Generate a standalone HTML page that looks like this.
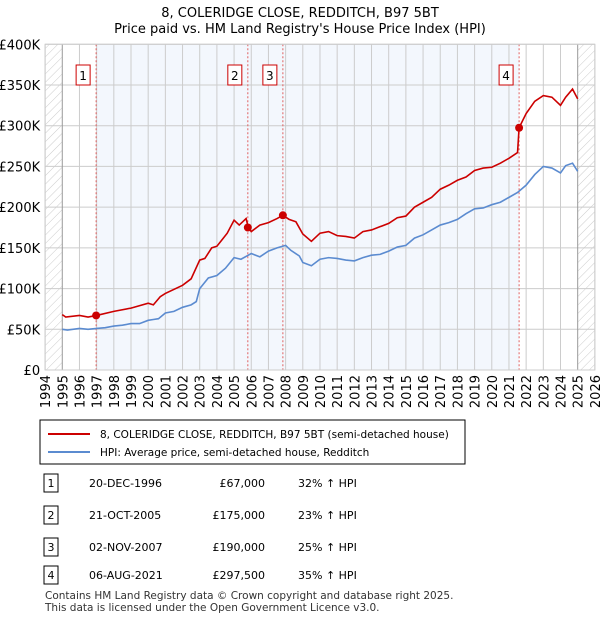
<!DOCTYPE html>
<html><head><meta charset="utf-8"><style>
body{margin:0;background:#fff;font-family:"Liberation Sans","DejaVu Sans",sans-serif;}
svg text{font-family:"DejaVu Sans","Liberation Sans",sans-serif;}
</style></head><body>
<svg width="600" height="620" xmlns="http://www.w3.org/2000/svg">
<defs><pattern id="hatch" width="6" height="6" patternUnits="userSpaceOnUse" patternTransform="rotate(45)"><line x1="0" y1="0" x2="0" y2="6" stroke="#ccc" stroke-width="1"/></pattern></defs>
<text x="300" y="17" text-anchor="middle" font-size="13">8, COLERIDGE CLOSE, REDDITCH, B97 5BT</text>
<text x="300" y="33" text-anchor="middle" font-size="13">Price paid vs. HM Land Registry's House Price Index (HPI)</text>
<g id="plot"></g>
<rect x="40" y="420" width="425" height="44" fill="#fff" stroke="#000"/>
<line x1="48" y1="434" x2="90" y2="434" stroke="#cc0000" stroke-width="2"/>
<text x="100" y="438" font-size="10.5">8, COLERIDGE CLOSE, REDDITCH, B97 5BT (semi-detached house)</text>
<line x1="48" y1="452" x2="90" y2="452" stroke="#5b8bd0" stroke-width="2"/>
<text x="100" y="456" font-size="10.5">HPI: Average price, semi-detached house, Redditch</text>
<g id="table" font-size="11"></g>
<text x="45" y="599" font-size="10.5" fill="#333">Contains HM Land Registry data © Crown copyright and database right 2025.</text>
<text x="45" y="611" font-size="10.5" fill="#333">This data is licensed under the Open Government Licence v3.0.</text>
</svg>
<script>
const NS="http://www.w3.org/2000/svg";
const yearTicks=[1994,1995,1996,1997,1998,1999,2000,2001,2002,2003,2004,2005,2006,2007,2008,2009,2010,2011,2012,2013,2014,2015,2016,2017,2018,2019,2020,2021,2022,2023,2024,2025,2026];
const yTicks=[0,50,100,150,200,250,300,350,400];
const yTickLabels=["£0","£50K","£100K","£150K","£200K","£250K","£300K","£350K","£400K"];
const hpiYears=[1995,1995.3,1996,1996.5,1997,1997.5,1998,1998.5,1999,1999.5,2000,2000.3,2000.6,2001,2001.5,2002,2002.5,2002.8,2003,2003.5,2004,2004.5,2005,2005.4,2006,2006.5,2007,2007.5,2008,2008.3,2008.8,2009,2009.5,2010,2010.5,2011,2011.5,2012,2012.5,2013,2013.5,2014,2014.5,2015,2015.5,2016,2016.5,2017,2017.5,2018,2018.5,2019,2019.5,2020,2020.5,2021,2021.5,2022,2022.5,2023,2023.5,2024,2024.3,2024.7,2025];
const hpiValues=[50,49,51,50,51,52,54,55,57,57,61,62,63,70,72,77,80,84,100,113,116,125,138,136,143,139,146,150,153,147,140,132,128,136,138,137,135,134,138,141,142,146,151,153,162,166,172,178,181,185,192,198,199,203,206,212,218,227,240,250,248,242,251,254,244];
const priceYears=[1995,1995.2,1996,1996.5,1997,1998,1999,2000,2000.3,2000.7,2001,2002,2002.5,2003,2003.3,2003.7,2004,2004.3,2004.6,2005,2005.3,2005.7,2005.83,2006,2006.5,2007,2007.5,2007.84,2008.2,2008.6,2009,2009.5,2010,2010.5,2011,2011.5,2012,2012.5,2013,2013.5,2014,2014.5,2015,2015.5,2016,2016.5,2017,2017.5,2018,2018.5,2019,2019.5,2020,2020.5,2021,2021.5,2021.59,2022,2022.5,2023,2023.5,2024,2024.3,2024.7,2025];
const priceValues=[68,65,67,65,67,72,76,82,80,90,94,104,112,135,137,150,152,160,168,184,178,186,175,170,178,181,186,190,185,182,167,158,168,170,165,164,162,170,172,176,180,187,189,200,206,212,222,227,233,237,245,248,249,254,260,267,297.5,315,330,337,335,325,335,345,333];
const saleYears=[1996.97,2005.8,2007.84,2021.59];
const saleValues=[67,175,190,297.5];
const saleLabels=["1","2","3","4"];
const saleDates=["20-DEC-1996","21-OCT-2005","02-NOV-2007","06-AUG-2021"];
const salePrices=["£67,000","£175,000","£190,000","£297,500"];
const saleHpi=["32% ↑ HPI","23% ↑ HPI","25% ↑ HPI","35% ↑ HPI"];
const X=y=>45.1+(y-1994)*17.18;
const Y=v=>370-v*0.8143;
const g=document.getElementById('plot');
function el(t,a,p){const e=document.createElementNS(NS,t);for(const k in a)e.setAttribute(k,a[k]);(p||g).appendChild(e);return e;}
let e;
e=el('rect',{x:X(1994),y:Y(400),width:X(1995)-X(1994),height:Y(0)-Y(400),fill:'url(#hatch)'});


e=el('rect',{x:X(2025),y:Y(400),width:X(2026)-X(2025),height:Y(0)-Y(400),fill:'url(#hatch)'});


e=el('rect',{x:X(saleYears[0]),y:Y(400),width:X(saleYears[3])-X(saleYears[0]),height:Y(0)-Y(400),fill:'#eef3fc',opacity:0.7});


yTicks.forEach((v,i)=>{
 e=el('line',{x1:X(1994),x2:X(2026),y1:Y(v),y2:Y(v),stroke:'#ccc'});
 
 
 e=el('text',{x:X(1994)-5,y:Y(v)+5,'text-anchor':'end','font-size':13});
 e.textContent=yTickLabels[i];
 
 
});
yearTicks.forEach(yr=>{
 e=el('line',{x1:X(yr),x2:X(yr),y1:Y(400),y2:Y(0),stroke:(yr==1995||yr==2025)?'#999':'#ccc'});
 
 
 e=el('text',{x:0,y:0,'text-anchor':'end','font-size':13,transform:`translate(${X(yr)+5},${Y(0)+5}) rotate(-90)`});
 e.textContent=yr;
 
 
});
saleYears.forEach((yr,i)=>{
 e=el('line',{x1:X(yr),x2:X(yr),y1:Y(400),y2:Y(0),stroke:'#e06060','stroke-dasharray':'2,2'});
 
 
 e=el('rect',{x:X(yr)-20,y:65,width:14,height:20,fill:'#fff',stroke:'#cc0000'});
 
 
 e=el('text',{x:X(yr)-13,y:80,'text-anchor':'middle','font-size':12});
 e.textContent=saleLabels[i];
 
 
});
e=el('polyline',{points:hpiYears.map((y,i)=>X(y)+','+Y(hpiValues[i])).join(' '),fill:'none',stroke:'#5b8bd0','stroke-width':1.6});


e=el('polyline',{points:priceYears.map((y,i)=>X(y)+','+Y(priceValues[i])).join(' '),fill:'none',stroke:'#cc0000','stroke-width':1.6});


saleYears.forEach((yr,i)=>{
 e=el('circle',{cx:X(yr),cy:Y(saleValues[i]),r:4,fill:'#cc0000'});
 
 
});
e=el('rect',{x:X(1994),y:Y(400),width:X(2026)-X(1994),height:Y(0)-Y(400),fill:'none',stroke:'#ccc'});


const t=document.getElementById('table');
const rowY=[483,515,547,575];
saleLabels.forEach((l,i)=>{
 const y=rowY[i];
 e=el('rect',{x:44,y:y-9,width:14,height:18,fill:'#fff',stroke:'#000'},t);
 
 
 e=el('text',{x:51,y:y+4,'text-anchor':'middle'},t);e.textContent=l;
 
 
 e=el('text',{x:89,y:y+4},t);e.textContent=saleDates[i];
 
 
 e=el('text',{x:265,y:y+4,'text-anchor':'end'},t);e.textContent=salePrices[i];
 
 
 e=el('text',{x:298,y:y+4},t);e.textContent=saleHpi[i];
 
 
});
</script>
</body></html>
